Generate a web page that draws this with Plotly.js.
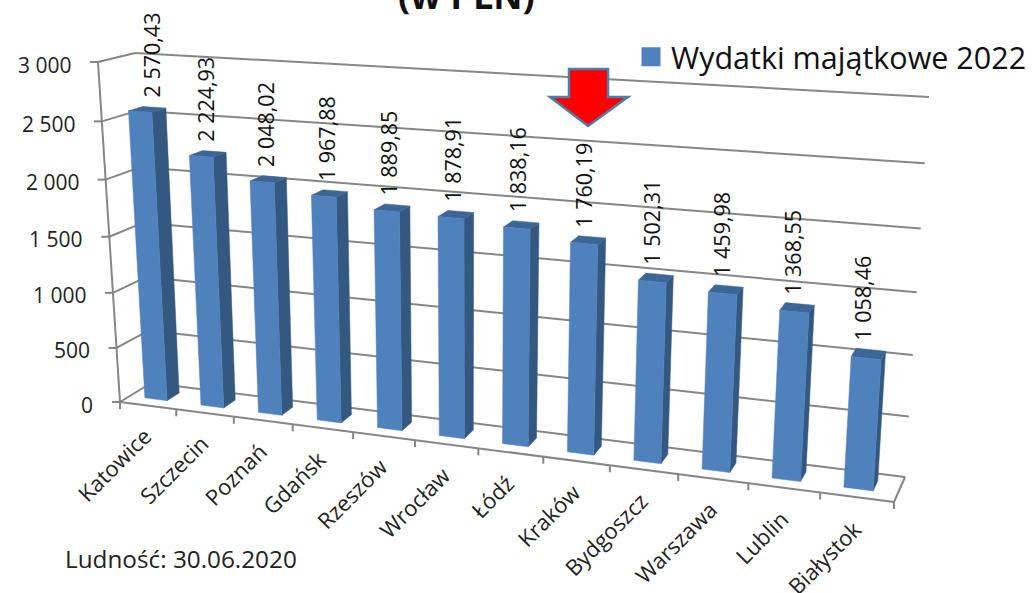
<!DOCTYPE html>
<html><head><meta charset="utf-8">
<script src="https://cdn.plot.ly/plotly-3.0.1.min.js"></script>
<style>html,body{margin:0;padding:0;background:#fff}</style></head>
<body><div id="chart" style="width:1033px;height:593px"></div>
<script>
const categories = ["Katowice","Szczecin","Poznań","Gdańsk","Rzeszów","Wrocław","Łódź","Kraków","Bydgoszcz","Warszawa","Lublin","Białystok"];
const values = [2570.43,2224.93,2048.02,1967.88,1889.85,1878.91,1838.16,1760.19,1502.31,1459.98,1368.55,1058.46];
const seriesName = "Wydatki majątkowe 2022";
const axisTicks = [0,500,1000,1500,2000,2500,3000];
const axisTickLabels = ["0","500","1 000","1 500","2 000","2 500","3 000"];
const FONT = '"Open Sans", "Noto Sans", sans-serif';

// Perspective frame of the 3D chart box: [x,y] of the corners (front/back, left/right, bottom/top)
const C = {
  flb:[120,402], flt:[98,62], blb:[151,383], blt:[135,53],
  frb:[894,502], frt:[919,111], brb:[905,477], brt:[929,97]
};
const KU = 1.16, KV = 1.058, VMAX = 3000, N = categories.length;
const persp = (t,k)=> t/(t+k*(1-t));
const mix = (a,b,t)=>[a[0]+(b[0]-a[0])*t, a[1]+(b[1]-a[1])*t];
function P(u,d,v){
  const su=persp(u/N,KU), sv=persp(v/VMAX,KV);
  const fb=mix(C.flb,C.frb,su), ft=mix(C.flt,C.frt,su), bb=mix(C.blb,C.brb,su), bt=mix(C.blt,C.brt,su);
  return mix(mix(fb,ft,sv), mix(bb,bt,sv), d);
}
function poly(t,pts){ pts.forEach(p=>{t.x.push(p[0]);t.y.push(p[1]);}); t.x.push(pts[0][0],null); t.y.push(pts[0][1],null); }
function seg(t,a,b){ t.x.push(a[0],b[0],null); t.y.push(a[1],b[1],null); }

const GRID = "#868686";
const lineT = (w)=>({type:"scatter",mode:"lines",x:[],y:[],line:{color:GRID,width:w},hoverinfo:"skip",showlegend:false});
const grid = lineT(2);
axisTicks.forEach(v=>{
  seg(grid,P(0,0,v),P(0,1,v));
  if(v>0) seg(grid,P(0,1,v),P(N,1,v));
});
seg(grid,P(0,1,0),P(N,1,0));
const frame = lineT(2);
seg(frame,P(0,0,0),P(0,0,VMAX));
seg(frame,P(0,0,0),P(N,0,0));
seg(frame,P(N,0,0),P(N,1,0));
axisTicks.forEach(v=>{const p=P(0,0,v); seg(frame,[p[0]-8,p[1]],p);});
for(let u=0;u<=N;u++){const p=P(u,0,0); seg(frame,p,[p[0],p[1]+7]);}

const face = (c)=>({type:"scatter",mode:"lines",fill:"toself",fillcolor:c,x:[],y:[],line:{color:c,width:0.5},hoverinfo:"skip",showlegend:false});
const side=face("#34587f"), top_=face("#3d6697"), front=face("#4f81bd");
const U0=.27,U1=.67,D0=.32,D1=.72;
values.forEach((val,i)=>{
  const u0=i+U0,u1=i+U1;
  poly(side,[P(u1,D0,0),P(u1,D1,0),P(u1,D1,val),P(u1,D0,val)]);
  poly(top_,[P(u0,D0,val),P(u1,D0,val),P(u1,D1,val),P(u0,D1,val)]);
  poly(front,[P(u0,D0,0),P(u1,D0,0),P(u1,D0,val),P(u0,D0,val)]);
});
const legendTrace = {type:"scatter",mode:"markers",x:[null],y:[null],name:seriesName,marker:{symbol:"square",size:16,color:"#4f81bd",line:{color:"#4f81bd",width:3}},hoverinfo:"skip",showlegend:true};

const fmt = v=>{const s=v.toFixed(2).replace(".",","); const [a,b]=s.split(","); return a.replace(/\B(?=(\d{3})+$)/g," ")+","+b;};
const annotations=[];
values.forEach((val,i)=>{
  const p=P(i+.5,.7,val);
  annotations.push({x:p[0],y:p[1],xref:"x",yref:"y",text:fmt(val),textangle:-90,showarrow:false,xanchor:"center",yanchor:"bottom",yshift:8,xshift:i===0?-4:-10,font:{family:FONT,size:21.5,color:"#111"}});
});
axisTicks.forEach((v,i)=>{
  const p=P(0,0,v);
  annotations.push({x:p[0]-25,y:p[1]+2.5,xref:"x",yref:"y",text:axisTickLabels[i],showarrow:false,xanchor:"right",yanchor:"middle",font:{family:FONT,size:21,color:"#222"}});
});
categories.forEach((c,i)=>{
  const p=P(i+1,0,0);
  annotations.push({x:p[0]-16-i*0.7,y:p[1]+9,xref:"x",yref:"y",text:c,textangle:-45,showarrow:false,xanchor:"right",yanchor:"top",font:{family:FONT,size:22,color:"#222"}});
});
annotations.push({x:63,y:558.5,xref:"x",yref:"y",text:"Ludność: 30.06.2020",showarrow:false,xanchor:"left",yanchor:"middle",font:{family:FONT,size:24.3,color:"#222"}});

const layout={
  width:1033,height:593,margin:{l:0,r:0,t:0,b:0},paper_bgcolor:"#fff",plot_bgcolor:"#fff",
  title:{text:"<b>(w PLN)</b>",x:0.4515,xanchor:"center",y:1,yanchor:"top",pad:{t:-16},font:{family:FONT,size:36,color:"#111"}},
  xaxis:{range:[0,1033],visible:false,fixedrange:true},
  yaxis:{range:[593,0],visible:false,fixedrange:true},
  legend:{x:631/1033,y:1-30.5/593,xanchor:"left",yanchor:"top",font:{family:FONT,size:30.5,color:"#111"},bgcolor:"rgba(0,0,0,0)",itemsizing:"trace"},
  annotations,
  shapes:[{type:"path",xref:"x",yref:"y",path:"M569,69 L608,69 L608,97 L628,97 L588,126 L550,97 L569,97 Z",fillcolor:"#ff0000",line:{color:"#4a7eab",width:2.5}}],
  showlegend:true
};
Plotly.newPlot("chart",[grid,frame,side,top_,front,legendTrace],layout,{displayModeBar:false,staticPlot:true});
</script></body></html>
